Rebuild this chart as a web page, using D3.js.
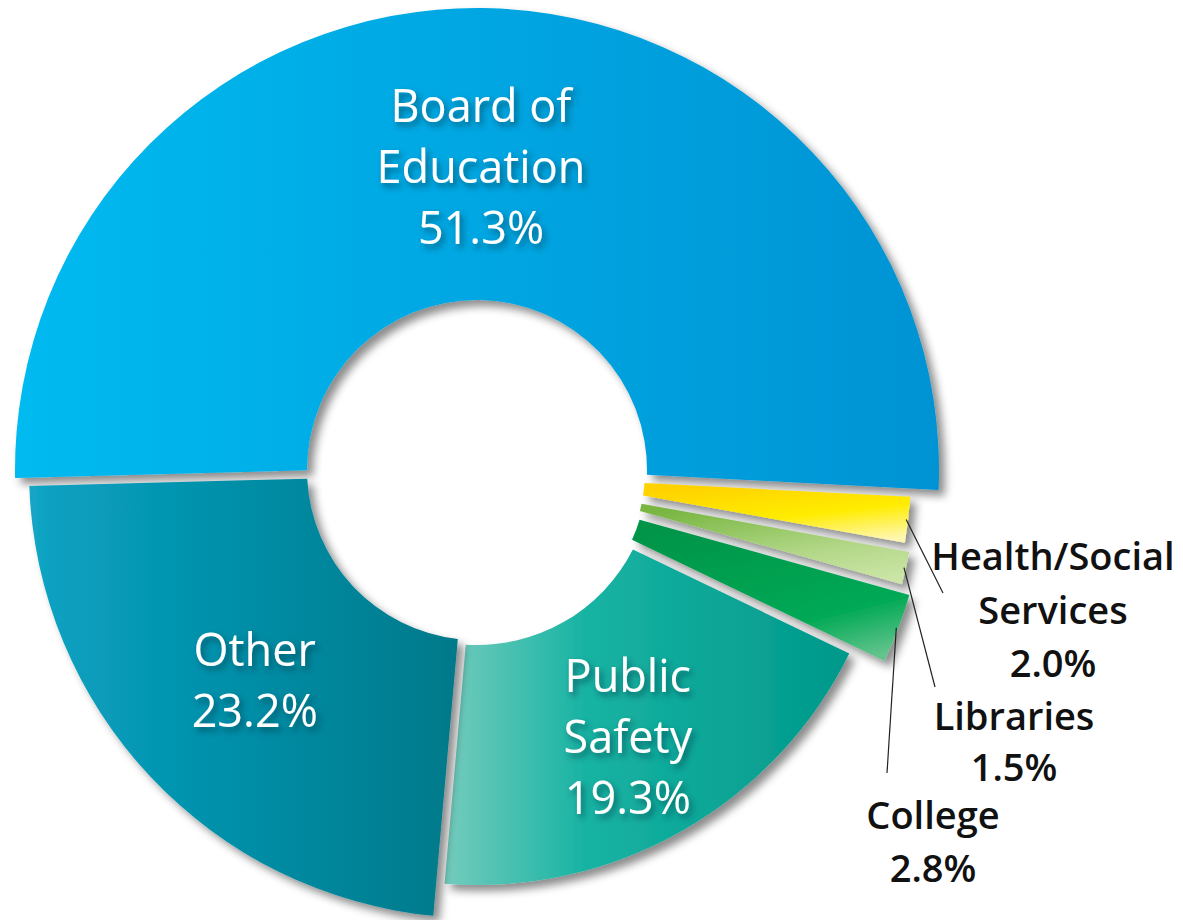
<!DOCTYPE html>
<html>
<head>
<meta charset="utf-8" />
<title>Budget share donut</title>
<script src="https://d3js.org/d3.v7.min.js"></script>
<style>
  body { margin: 0; background: #fff; }
  .inlabel { font-family: "Open Sans", sans-serif; font-size: 45px; fill: #fff; }
  .outlabel { font-family: "Open Sans", sans-serif; font-size: 38px; font-weight: 600; fill: #111; }
  .leader { stroke: #222; stroke-width: 1.2px; fill: none; }
</style>
</head>
<body>
<script>
// data, clockwise from the top-left edge of the ring
var categories = ["Board of Education", "Health/Social Services", "Libraries", "College", "Public Safety", "Other"];
var shares = [51.3, 2.0, 1.5, 2.8, 19.3, 23.2];
var labelLines = [["Board of", "Education"], ["Health/Social", "Services"], ["Libraries"], ["College"], ["Public", "Safety"], ["Other"]];

// look of each slice
var look = {
  "Board of Education":     { outer: 462, inner: 170, stops: [[0, "#00baf0"], [1, "#0093d4"]], dir: [0, 0, 1, 0] },
  "Health/Social Services": { outer: 434, inner: 168, stops: [[0, "#ffd200"], [0.55, "#ffec00"], [1, "#fff7b0"]], dir: [0.3, 0, 0.8, 1] },
  "Libraries":              { outer: 440, inner: 168, stops: [[0, "#79b743"], [0.6, "#b2d787"], [1, "#cbe5a6"]], dir: [0.3, 0, 0.8, 1] },
  "College":                { outer: 450, inner: 170, stops: [[0, "#05954a"], [0.7, "#00a955"], [1, "#62c38c"]], dir: [0.3, 0, 0.8, 1] },
  "Public Safety":          { outer: 415, inner: 175, stops: [[0, "#74ccbd"], [0.35, "#17b3a3"], [1, "#00988a"]], dir: [0, 0, 1, 0] },
  "Other":                  { outer: 448, inner: 170, stops: [[0, "#16a6c6"], [0.06, "#08a0c0"], [1, "#00798a"]], dir: [0, 0, 1, 0] }
};
// outside labels: text centre, first baseline, line gap, leader end
var outside = {
  "Health/Social Services": { x: 1053, y: 570, gap: 53.5, end: [943, 593] },
  "Libraries":              { x: 1014, y: 730, gap: 51,   end: [935, 687] },
  "College":                { x: 933,  y: 829, gap: 53,   end: [887, 773] }
};

var width = 1183, height = 920, cx = 477, cy = 470;
var fmt = d3.format(".1f");

var data = categories.map(function(c, i) {
  return { name: c, value: shares[i], lines: labelLines[i].concat([fmt(shares[i]) + "%"]) };
});

var start = -91.5 * Math.PI / 180;
var pie = d3.pie().sort(null).value(function(d) { return d.value; })
  .startAngle(start).endAngle(start + 2 * Math.PI);
var arcs = pie(data);

var svg = d3.select("body").append("svg")
  .attr("width", width).attr("height", height);

var defs = svg.append("defs");
var sh = defs.append("filter").attr("id", "shadow")
  .attr("x", "-10%").attr("y", "-10%").attr("width", "130%").attr("height", "130%");
sh.append("feDropShadow").attr("dx", 6).attr("dy", 6).attr("stdDeviation", 4)
  .attr("flood-color", "#000").attr("flood-opacity", 0.45);
var tsh = defs.append("filter").attr("id", "tshadow")
  .attr("x", "-20%").attr("y", "-30%").attr("width", "150%").attr("height", "170%");
tsh.append("feDropShadow").attr("dx", 3).attr("dy", 4).attr("stdDeviation", 3)
  .attr("flood-color", "#003040").attr("flood-opacity", 0.6);

arcs.forEach(function(a, i) {
  var lk = look[a.data.name];
  var g = defs.append("linearGradient").attr("id", "grad" + i)
    .attr("x1", lk.dir[0]).attr("y1", lk.dir[1]).attr("x2", lk.dir[2]).attr("y2", lk.dir[3]);
  lk.stops.forEach(function(s) {
    g.append("stop").attr("offset", s[0]).attr("stop-color", s[1]);
  });
});

var chart = svg.append("g").attr("transform", "translate(" + cx + "," + cy + ")");

function arcFor(name) {
  var lk = look[name];
  return d3.arc().innerRadius(lk.inner).outerRadius(lk.outer).padAngle(0.02).padRadius(420);
}

chart.selectAll("path.slice")
  .data(arcs)
  .enter().append("path")
  .attr("class", "slice")
  .attr("d", function(d) { return arcFor(d.data.name)(d); })
  .attr("fill", function(d, i) { return "url(#grad" + i + ")"; })
  .attr("filter", "url(#shadow)");

// labels inside the big slices
var inner = arcs.filter(function(d) { return !outside[d.data.name]; });
var lblArc = d3.arc().innerRadius(305).outerRadius(305);
inner.forEach(function(d) {
  var c = lblArc.centroid(d);
  var n = d.data.lines.length;
  var t = chart.append("text").attr("class", "inlabel")
    .attr("text-anchor", "middle").attr("filter", "url(#tshadow)");
  d.data.lines.forEach(function(line, k) {
    t.append("tspan").attr("x", c[0])
      .attr("y", c[1] + (k - (n - 1) / 2) * 61)
      .attr("dominant-baseline", "central")
      .text(line);
  });
});

// labels and leader lines for the small slices
arcs.filter(function(d) { return outside[d.data.name]; }).forEach(function(d) {
  var o = outside[d.data.name];
  var lk = look[d.data.name];
  var mid = (d.startAngle + d.endAngle) / 2;
  var r = lk.outer - 2;
  svg.append("line").attr("class", "leader")
    .attr("x1", cx + r * Math.sin(mid)).attr("y1", cy - r * Math.cos(mid))
    .attr("x2", o.end[0]).attr("y2", o.end[1]);
  var t = svg.append("text").attr("class", "outlabel").attr("text-anchor", "middle");
  d.data.lines.forEach(function(line, k) {
    t.append("tspan").attr("x", o.x).attr("y", o.y + k * o.gap).text(line);
  });
});
</script>
</body>
</html>
